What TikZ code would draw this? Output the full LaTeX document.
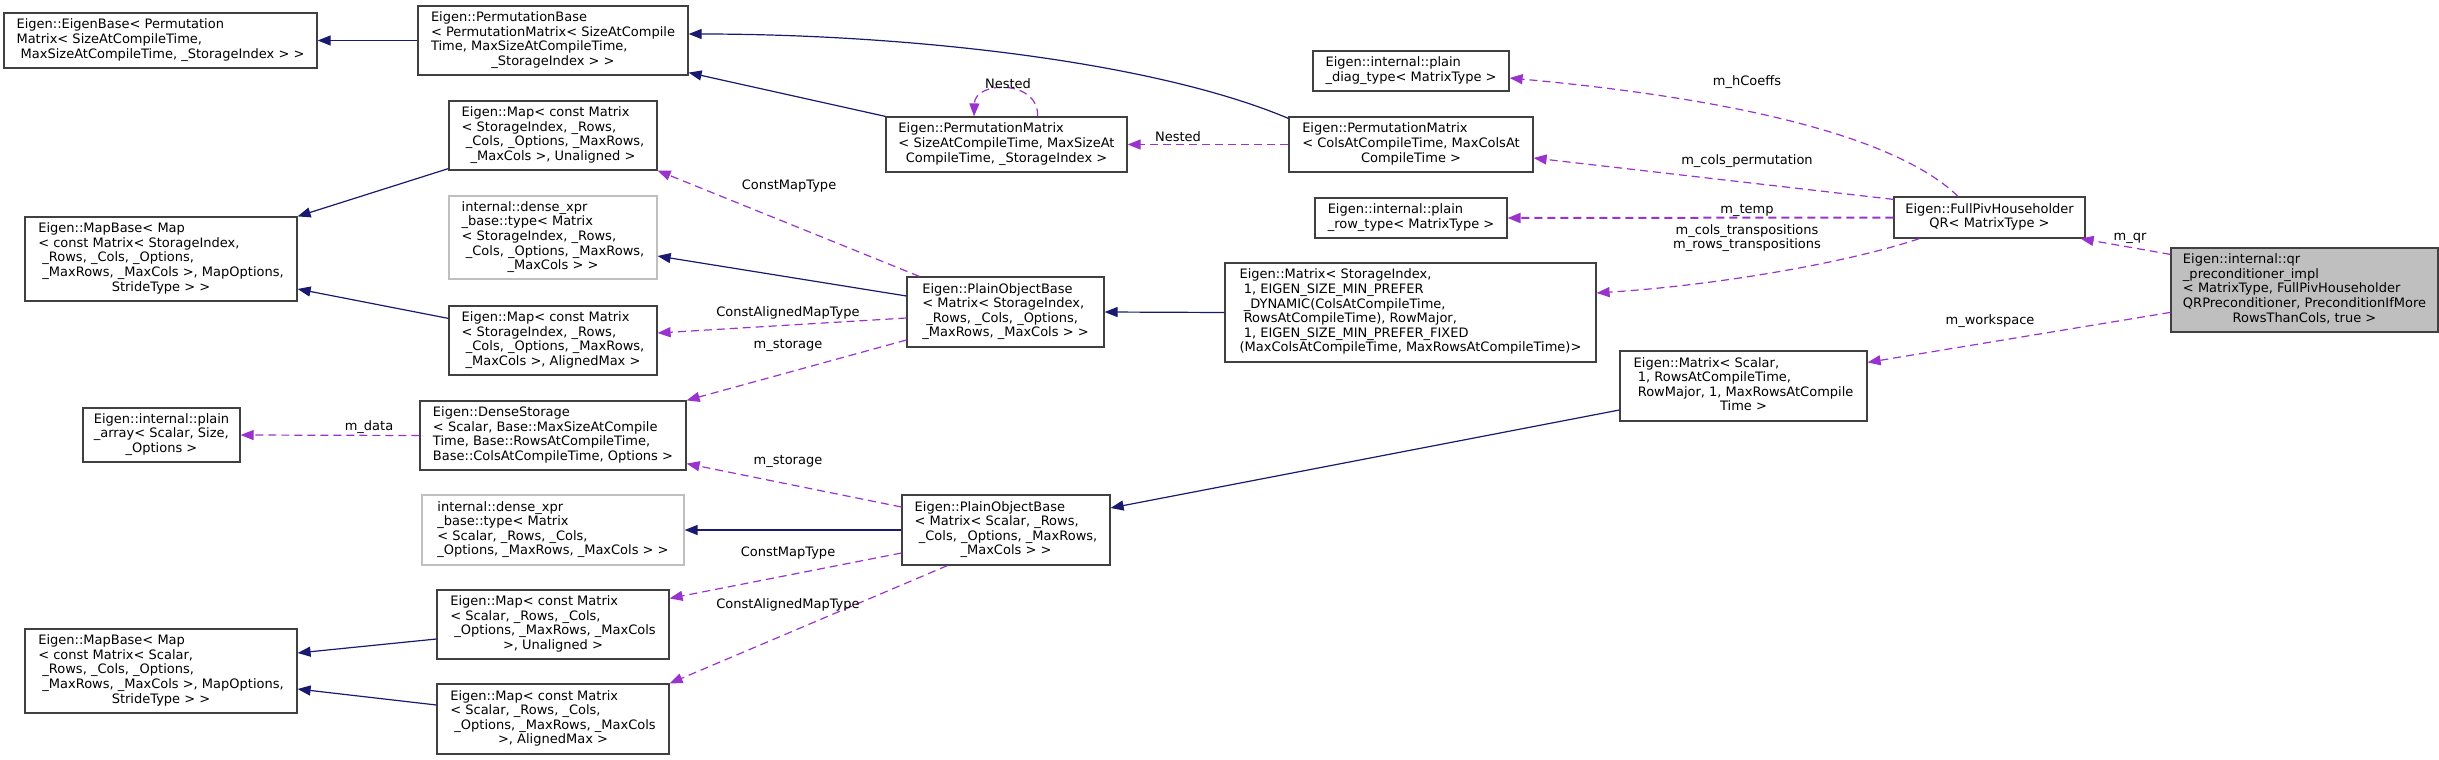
\documentclass[tikz,border=0pt]{standalone}
\usepackage{fontspec}
\setmainfont{DejaVu Sans}
\usetikzlibrary{arrows.meta,calc}
\definecolor{navy}{HTML}{191970}
\definecolor{orch}{HTML}{9A32CD}
\definecolor{nodeedge}{HTML}{404040}
\definecolor{greyedge}{HTML}{BFBFBF}
\newcommand\lastl[1]{\multicolumn{1}{@{}c@{}}{#1}}
\newcommand\tb[1]{\begin{tabular}{@{}l@{}}#1\end{tabular}}
\begin{document}
\begin{tikzpicture}[x=1pt,y=-1pt,
 cls/.style={draw=nodeedge, line width=1.2pt, fill=white, inner sep=0pt, font=\fontsize{13}{14.6}\selectfont},
 gcls/.style={cls, draw=greyedge},
 hcls/.style={cls, fill=greyedge},
 inh/.style={draw=navy, line width=1.2pt, -{Triangle[length=13pt,width=10pt]}},
 use/.style={draw=orch, line width=1.2pt, dash pattern=on 8pt off 5pt, -{Triangle[length=13pt,width=10pt]}},
 lbl/.style={font=\fontsize{13}{14.6}\selectfont, inner sep=0pt}]
\useasboundingbox (0,0) rectangle (2439,760);

% nodes
\node[cls, minimum width=313pt, minimum height=55pt] (eb) at (160.5,40.5) {\tb{Eigen::EigenBase< Permutation\\Matrix< SizeAtCompileTime,\\\lastl{\ MaxSizeAtCompileTime, \_StorageIndex > >}}};
\node[cls, minimum width=270pt, minimum height=69pt] (pb) at (553,40.5) {\tb{Eigen::PermutationBase\\< PermutationMatrix< SizeAtCompile\\Time, MaxSizeAtCompileTime,\\\lastl{\_StorageIndex > >}}};
\node[cls, minimum width=208pt, minimum height=69pt] (msu) at (553,135.5) {\tb{Eigen::Map< const Matrix\\< StorageIndex, \_Rows,\\\ \_Cols, \_Options, \_MaxRows,\\\lastl{\_MaxCols >, Unaligned >}}};
\node[cls, minimum width=272pt, minimum height=84pt] (mbs) at (161,259) {\tb{Eigen::MapBase< Map\\< const Matrix< StorageIndex,\\\ \_Rows, \_Cols, \_Options,\\\ \_MaxRows, \_MaxCols >, MapOptions,\\\lastl{StrideType > >}}};
\node[gcls, minimum width=208pt, minimum height=83pt] (dxs) at (553,237.5) {\tb{internal::dense\_xpr\\\_base::type< Matrix\\< StorageIndex, \_Rows,\\\ \_Cols, \_Options, \_MaxRows,\\\lastl{\_MaxCols > >}}};
\node[cls, minimum width=208pt, minimum height=69pt] (msa) at (553,340.5) {\tb{Eigen::Map< const Matrix\\< StorageIndex, \_Rows,\\\ \_Cols, \_Options, \_MaxRows,\\\lastl{\_MaxCols >, AlignedMax >}}};
\node[cls, minimum width=157pt, minimum height=54pt] (pa) at (161.5,435) {\tb{Eigen::internal::plain\\\_array< Scalar, Size,\\\lastl{\_Options >}}};
\node[cls, minimum width=266pt, minimum height=69pt] (ds) at (553,435.5) {\tb{Eigen::DenseStorage\\< Scalar, Base::MaxSizeAtCompile\\Time, Base::RowsAtCompileTime,\\\lastl{Base::ColsAtCompileTime, Options >}}};
\node[gcls, minimum width=262pt, minimum height=70pt] (dxc) at (553,530) {\tb{internal::dense\_xpr\\\_base::type< Matrix\\< Scalar, \_Rows, \_Cols,\\\lastl{\_Options, \_MaxRows, \_MaxCols > >}}};
\node[cls, minimum width=232pt, minimum height=69pt] (mcu) at (553,624.5) {\tb{Eigen::Map< const Matrix\\< Scalar, \_Rows, \_Cols,\\\ \_Options, \_MaxRows, \_MaxCols\\\lastl{>, Unaligned >}}};
\node[cls, minimum width=272pt, minimum height=84pt] (mbc) at (161,671) {\tb{Eigen::MapBase< Map\\< const Matrix< Scalar,\\\ \_Rows, \_Cols, \_Options,\\\ \_MaxRows, \_MaxCols >, MapOptions,\\\lastl{StrideType > >}}};
\node[cls, minimum width=232pt, minimum height=70pt] (mca) at (553,719) {\tb{Eigen::Map< const Matrix\\< Scalar, \_Rows, \_Cols,\\\ \_Options, \_MaxRows, \_MaxCols\\\lastl{>, AlignedMax >}}};
\node[cls, minimum width=241pt, minimum height=55pt] (pms) at (1006.5,144.5) {\tb{Eigen::PermutationMatrix\\< SizeAtCompileTime, MaxSizeAt\\\lastl{CompileTime, \_StorageIndex >}}};
\node[cls, minimum width=197pt, minimum height=70pt] (pos) at (1005.5,312) {\tb{Eigen::PlainObjectBase\\< Matrix< StorageIndex,\\\ \_Rows, \_Cols, \_Options,\\\lastl{\_MaxRows, \_MaxCols > >}}};
\node[cls, minimum width=208pt, minimum height=70pt] (poc) at (1006,530) {\tb{Eigen::PlainObjectBase\\< Matrix< Scalar, \_Rows,\\\ \_Cols, \_Options, \_MaxRows,\\\lastl{\_MaxCols > >}}};
\node[cls, minimum width=196pt, minimum height=40pt] (pdt) at (1411,71) {\tb{Eigen::internal::plain\\\lastl{\_diag\_type< MatrixType >}}};
\node[cls, minimum width=244pt, minimum height=55pt] (pmc) at (1411,144.5) {\tb{Eigen::PermutationMatrix\\< ColsAtCompileTime, MaxColsAt\\\lastl{CompileTime >}}};
\node[cls, minimum width=192pt, minimum height=40pt] (prt) at (1411,218) {\tb{Eigen::internal::plain\\\lastl{\_row\_type< MatrixType >}}};
\node[cls, minimum width=371pt, minimum height=99pt] (mxs) at (1410.5,312.5) {\tb{Eigen::Matrix< StorageIndex,\\\ 1, EIGEN\_SIZE\_MIN\_PREFER\\\ \_DYNAMIC(ColsAtCompileTime,\\\ RowsAtCompileTime), RowMajor,\\\ 1, EIGEN\_SIZE\_MIN\_PREFER\_FIXED\\\lastl{(MaxColsAtCompileTime, MaxRowsAtCompileTime)>}}};
\node[cls, minimum width=247pt, minimum height=70pt] (mxc) at (1743.5,386) {\tb{Eigen::Matrix< Scalar,\\\ 1, RowsAtCompileTime,\\\ RowMajor, 1, MaxRowsAtCompile\\\lastl{Time >}}};
\node[cls, minimum width=191pt, minimum height=41pt] (fpq) at (1989.5,217.5) {\tb{Eigen::FullPivHouseholder\\\lastl{QR< MatrixType >}}};
\node[hcls, minimum width=267pt, minimum height=84pt] (qrp) at (2304.5,290) {\tb{Eigen::internal::qr\\\_preconditioner\_impl\\< MatrixType, FullPivHouseholder\\QRPreconditioner, PreconditionIfMore\\\lastl{RowsThanCols, true >}}};

% inheritance edges
\draw[inh] (pb.west) -- (eb.east);
\draw[inh] (pms.north west) -- ([yshift=3pt]pb.south east);
\draw[inh] ([yshift=-2pt]pmc.north west) .. controls (1150,60) and (900,34) .. ([yshift=6.5pt]pb.east);
\draw[inh] ([yshift=2pt]msu.south west) -- (mbs.north east);
\draw[inh] ([yshift=-13pt]msa.north west) -- ([yshift=-30pt]mbs.east);
\draw[inh] ([yshift=16pt]pos.west) -- ([yshift=-18.5pt]dxs.east);
\draw[inh] (mxs.west) -- (pos.east);
\draw[inh] (poc.west) -- (dxc.east);
\draw[inh] ([yshift=-24pt]mxc.west) -- ([yshift=22pt]poc.east);
\draw[inh] ([yshift=-14.5pt]mcu.west) -- ([yshift=18pt]mbc.east);
\draw[inh] ([yshift=14pt]mca.west) -- ([yshift=-18pt]mbc.east);

% usage edges
\draw[use] ([xshift=13pt]pos.north west) -- (msu.south east);
\node[lbl] (l1) at (789,186) {ConstMapType};
\draw[use] ([yshift=-6pt]pos.west) -- ([yshift=7.5pt]msa.east);
\node[lbl] (l2) at (788,313) {ConstAlignedMapType};
\draw[use] ([yshift=-28pt]pos.west) -- (ds.north east);
\node[lbl] (l3) at (788,345) {m\_storage};
\draw[use] ([yshift=23pt]poc.west) -- ([yshift=7pt]ds.south east);
\node[lbl] (l4) at (788,461) {m\_storage};
\draw[use] ([yshift=-23pt]poc.west) -- ([yshift=-9pt]mcu.north east);
\node[lbl] (l5) at (788,553) {ConstMapType};
\draw[use] ([xshift=46pt]poc.south west) -- (mca.north east);
\node[lbl] (l6) at (788,605) {ConstAlignedMapType};
\draw[use] (ds.west) -- (pa.east);
\node[lbl] (l7) at (369,427) {m\_data};
\draw[use] ([xshift=31pt]pms.north) .. controls (1040,80) and (975,80) .. ([xshift=-32.5pt]pms.north);
\node[lbl] (l8) at (1008,84) {Nested};
\draw[use] (pmc.west) -- (pms.east);
\node[lbl] (l9) at (1178,137) {Nested};
\draw[use] ([xshift=-31.5pt]fpq.north) .. controls (1900,140) and (1750,100) .. ([yshift=-7pt]pdt.east);
\node[lbl] (l10) at (1747,82) {m\_hCoeffs};
\draw[use] ([yshift=-3pt]fpq.north west) -- ([yshift=-13.5pt]pmc.east);
\node[lbl] (l11) at (1747,161) {m\_cols\_permutation};
\draw[use, line width=2pt] (fpq.west) -- (prt.east);
\node[lbl] (l12) at (1747,210) {m\_temp};
\draw[use] ([xshift=26pt]fpq.south west) .. controls (1850,262) and (1720,285) .. ([yshift=19.5pt]mxs.east);
\node[lbl, align=center] (l13) at (1747,238) {m\_cols\_transpositions\\m\_rows\_transpositions};
\draw[use] ([yshift=-7pt]qrp.north west) -- ([xshift=-5pt]fpq.south east);
\node[lbl] (l14) at (2130,238) {m\_qr};
\draw[use] ([yshift=-65pt]qrp.north west) -- ([yshift=-12pt]mxc.north east);
\node[lbl] (l15) at (1990,321) {m\_workspace};
\end{tikzpicture}
\end{document}
